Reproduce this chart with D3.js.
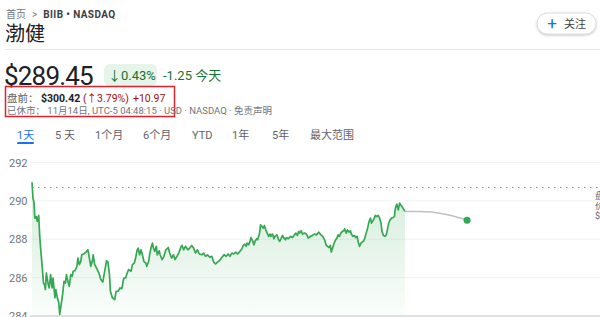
<!DOCTYPE html>
<html lang="zh">
<head>
<meta charset="UTF-8">
<title>渤健</title>
<style>
  body { margin: 0; background: #fff; }
  svg { display: block; font-family: Roboto, "Noto Sans CJK SC", sans-serif; }
</style>
</head>
<body>
<svg id="svg" width="600" height="317"></svg>
<script src="https://d3js.org/d3.v7.min.js"></script>
<script>
// minutes after 9:30 open, price
const session = [
  [0,290.97],[1,290.15],[2,289.96],[3,289.10],[4.5,289.18],[5.5,288.93],[7,289.24],[8,288.23],[9,287.54],
  [10.5,286.68],[12,285.72],[13,285.64],[14,285.38],[15,286.24],[17,285.64],[18,285.46],[19.5,286.16],
  [21,285.46],[22,285.98],[24,284.95],[25,285.38],[26.5,284.95],[28,284.69],[29,284.08],[31,284.77],
  [32,285.12],[33.5,285.81],[35,285.72],[36,286.16],[37.5,285.81],[39,285.55],[40.5,286.16],[42,286.07],
  [43,286.33],[45,286.36],[47,286.59],[48,287.02],[49.5,286.68],[51,286.85],[52,287.19],[54,287.23],
  [56.5,287.33],[58.5,287.45],[60,287.02],[61.5,286.59],[63,286.85],[64,287.19],[65.5,286.68],[67.5,286.50],
  [70,286.24],[72,285.90],[74,285.77],[76,286.33],[78,286.88],[79.5,286.81],[81,286.16],[82,285.29],
  [84,284.95],[86.5,284.86],[88,285.29],[90,285.29],[92,285.46],[94,285.43],[96,285.98],[98,285.98],
  [99,286.16],[101,286.42],[103.5,286.33],[105,286.68],[107,286.76],[108,286.94],[110,287.45],[111,287.54],
  [112.5,287.19],[114,287.45],[115,287.28],[117,286.85],[119,286.76],[120,286.59],[122,286.85],[123,287.19],
  [124.5,287.57],[126,287.80],[127,287.54],[128.5,287.37],[130,287.63],[131,287.19],[133,287.40],[134,287.19],
  [136,286.94],[138,287.11],[140,287.45],[142.5,287.57],[144,287.28],[146,287.02],[148,287.19],[149.5,286.94],
  [151.5,287.11],[153.5,287.28],[156,287.63],[157,287.68],[158.5,287.45],[160.5,287.63],[163,287.45],
  [165,287.54],[167,287.68],[169,287.54],[171,287.28],[173,287.45],[175,287.23],[177.5,287.19],[179.5,287.28],
  [181.5,287.11],[183.5,287.19],[186,287.06],[188,287.11],[190,286.81],[192,286.71],[194,286.81],[196,286.88],
  [198,287.02],[201,287.20],[203,287.11],[205,287.23],[207,287.11],[209,287.28],[211,287.23],[213,287.33],
  [215,287.23],[217.5,287.37],[219.5,287.51],[221,287.68],[222.5,287.75],[224,287.63],[225,287.80],
  [226.5,287.71],[228,287.89],[229,288.09],[231,287.89],[232,287.71],[233.5,287.92],[235,288.03],[236,287.97],
  [238,288.32],[239,288.75],[240.5,288.66],[242,288.58],[243,288.72],[244.5,288.49],[246,288.32],[247.5,288.15],
  [249,288.27],[250,288.15],[251.5,288.27],[253,288.03],[254,288.15],[256,288.23],[258,287.97],[259,287.89],
  [260.5,288.03],[262,288.20],[263.5,288.06],[265,287.97],[266,288.09],[268,288.03],[270.5,288.15],
  [272.5,288.09],[274.5,288.23],[276,288.32],[277.5,288.20],[279,288.41],[280,288.32],[281.5,288.44],
  [283,288.27],[285,288.32],[287,288.27],[289,288.06],[291,288.15],[293.5,288.20],[295.5,288.27],[297.5,288.23],
  [300,288.37],[302,288.23],[304,288.15],[306,287.97],[307.5,287.71],[309,287.63],[310.5,287.57],[312,287.68],
  [313,287.33],[314.5,287.57],[316,287.80],[317.5,287.97],[319,288.06],[320,288.23],[321.5,288.15],[323,288.32],
  [324.5,288.41],[326,288.44],[327,288.55],[328.5,288.32],[330,288.49],[331.5,288.37],[333,288.44],[334,288.27],
  [335.5,288.15],[337,288.20],[338.5,288.09],[340,288.15],[341,287.89],[342.5,287.63],[344,287.80],[345.5,287.86],
  [347,287.92],[348,288.06],[349.5,288.32],[351,288.58],[352.5,288.93],[354,289.10],[355,288.84],[356.5,288.96],
  [358,289.10],[359,289.24],[360.5,289.18],[362,289.24],[363.5,289.10],[365,288.84],[366,288.41],[367.5,288.20],
  [369,288.15],[370.5,288.23],[372,288.58],[373,288.84],[374.5,289.01],[376,289.10],[377.5,289.13],[379,289.18],
  [380,289.62],[381.5,289.83],[383,289.53],[384.5,289.88],[386,289.76],[387,289.70],[388.5,289.58],[390,289.45]
]
const afterHours = [[390,289.45],[406,289.44],[421,289.40],[437,289.25],[455,288.99]]
const prevClose = 290.70
const yTicks = [284, 286, 288, 290, 292]
const tabs = ['1天', '5 天', '1个月', '6个月', 'YTD', '1年', '5年', '最大范围']
const rightNote = ['盘前', '价格', '$300.42']

const svg = d3.select('#svg')
const green = '#34a853'
const grey = '#5f6368'

// header
const crumb = svg.append('text').attr('x', 6).attr('y', 18).style('font-size', '10px')
crumb.append('tspan').attr('fill', '#70757a').text('首页')
crumb.append('tspan').attr('fill', '#70757a').attr('dx', 6).text('>')
crumb.append('tspan').attr('fill', '#3c4043').attr('dx', 6).style('font-weight', 700)
  .style('letter-spacing', '0.4px').text('BIIB • NASDAQ')

svg.append('text').attr('x', 5).attr('y', 41).attr('fill', '#202124')
  .style('font-size', '20px').text('渤健')

svg.append('line').attr('x1', 5).attr('x2', 600).attr('y1', 49.5).attr('y2', 49.5)
  .attr('stroke', '#e8eaed')

// follow button
const btnShadow = svg.append('defs').append('filter').attr('id', 'sh')
  .attr('x', -0.2).attr('y', -0.4).attr('width', 1.4).attr('height', 1.8)
btnShadow.append('feDropShadow').attr('dx', 0).attr('dy', 1).attr('stdDeviation', 1)
  .attr('flood-color', '#3c4043').attr('flood-opacity', 0.3)
svg.append('rect').attr('x', 537).attr('y', 13).attr('width', 59).attr('height', 21).attr('rx', 10.5)
  .attr('fill', '#fff').attr('stroke', '#dadce0').attr('filter', 'url(#sh)')
svg.append('text').attr('x', 552).attr('y', 29).attr('text-anchor', 'middle')
  .attr('fill', '#1a73e8').style('font-size', '17px').text('+')
svg.append('text').attr('x', 564).attr('y', 28).attr('fill', '#3c4043')
  .style('font-size', '11px').text('关注')

// price
svg.append('text').attr('x', 4).attr('y', 85).attr('fill', '#202124')
  .style('font-size', '26px').style('letter-spacing', '-0.8px').text('$289.45')
svg.append('rect').attr('x', 104).attr('y', 64).attr('width', 53).attr('height', 22).attr('rx', 6)
  .attr('fill', '#e6f4ea')
svg.append('text').attr('x', 108).attr('y', 80).attr('fill', '#137333')
  .style('font-size', '13px').text('↓0.43%')
svg.append('text').attr('x', 163).attr('y', 80).attr('fill', '#137333')
  .style('font-size', '13px').text('-1.25 今天')

// premarket box
svg.append('rect').attr('x', 5.5).attr('y', 86.5).attr('width', 169).attr('height', 30)
  .attr('fill', 'none').attr('stroke', '#e0202a').attr('stroke-width', 1.5)
const pre = svg.append('text').attr('x', 7).attr('y', 102).style('font-size', '10.5px')
pre.append('tspan').attr('fill', grey).text('盘前：')
pre.append('tspan').attr('x', 41).attr('fill', '#202124').style('font-weight', 700).text('$300.42')
pre.append('tspan').attr('x', 83).attr('fill', '#a50e0e').text('(↑3.79%)')
pre.append('tspan').attr('x', 133).attr('fill', '#a50e0e').text('+10.97')
svg.append('text').attr('x', 7).attr('y', 114).attr('fill', '#70757a').style('font-size', '9.5px')
  .text('已休市： 11月14日, UTC-5 04:48:15 · USD · NASDAQ · 免责声明')

// tabs
const tabX = [17, 55, 95, 143, 192, 232, 272, 310]
svg.selectAll('text.tab').data(tabs).enter().append('text')
  .attr('class', 'tab')
  .attr('x', (d, i) => tabX[i]).attr('y', 139)
  .attr('fill', (d, i) => i === 0 ? '#1a73e8' : grey)
  .style('font-size', '11px')
  .text(d => d)
svg.append('rect').attr('x', 17).attr('y', 142).attr('width', 17).attr('height', 2).attr('rx', 1)
  .attr('fill', '#1a73e8')

// chart
const x = d3.scaleLinear().domain([0, 594]).range([32, 600])
const y = d3.scaleLinear().domain([284, 292]).range([316, 162.5])

svg.selectAll('line.grid').data(yTicks.filter(d => d !== 284)).enter().append('line')
  .attr('class', 'grid')
  .attr('x1', 30).attr('x2', 600)
  .attr('y1', d => y(d)).attr('y2', d => y(d))
  .attr('stroke', '#f1f3f4')

svg.selectAll('text.ytick').data(yTicks).enter().append('text')
  .attr('class', 'ytick')
  .attr('x', 9).attr('y', d => y(d) + 4)
  .attr('fill', '#70757a').style('font-size', '11px')
  .text(d => d)

const grad = svg.select('defs').append('linearGradient').attr('id', 'fillg')
  .attr('x1', 0).attr('x2', 0).attr('y1', 0).attr('y2', 1)
grad.append('stop').attr('offset', '0%').attr('stop-color', green).attr('stop-opacity', 0.22)
grad.append('stop').attr('offset', '100%').attr('stop-color', green).attr('stop-opacity', 0.02)

const area = d3.area().x(d => x(d[0])).y0(y(284)).y1(d => y(d[1]))
svg.append('path').attr('d', area(session)).attr('fill', 'url(#fillg)')

svg.append('line').attr('x1', 30).attr('x2', 600).attr('y1', y(284)).attr('y2', y(284))
  .attr('stroke', '#bdc1c6')

svg.append('line').attr('x1', 32).attr('x2', 600)
  .attr('y1', y(prevClose)).attr('y2', y(prevClose))
  .attr('stroke', '#80868b').attr('stroke-width', 1).attr('stroke-dasharray', '1.5 4.5')

const line = d3.line().x(d => x(d[0])).y(d => y(d[1]))
svg.append('path').attr('d', line.curve(d3.curveMonotoneX)(afterHours))
  .attr('fill', 'none').attr('stroke', '#bdc1c6').attr('stroke-width', 1.5)
svg.append('path').attr('d', d3.line().x(d => x(d[0])).y(d => y(d[1]))(session))
  .attr('fill', 'none').attr('stroke', green).attr('stroke-width', 1.7)
  .attr('stroke-linejoin', 'round')

const last = afterHours[afterHours.length - 1]
svg.append('circle').attr('cx', x(last[0])).attr('cy', y(last[1])).attr('r', 3.5).attr('fill', green)

svg.selectAll('text.note').data(rightNote).enter().append('text')
  .attr('class', 'note')
  .attr('x', 595).attr('y', (d, i) => 199 + i * 10)
  .attr('fill', grey).style('font-size', '9px')
  .text(d => d)
</script>
</body>
</html>
